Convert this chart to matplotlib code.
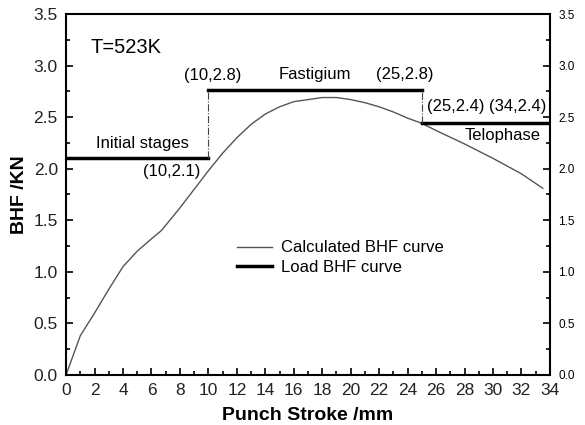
import matplotlib
matplotlib.use("Agg")
import matplotlib.pyplot as plt
from matplotlib.ticker import MultipleLocator, FormatStrFormatter

plt.rcParams['font.family'] = ['Liberation Sans', 'DejaVu Sans']

# calculated BHF curve
stroke = [0, 1, 2, 3, 4, 5, 6, 6.7, 8, 9, 10, 11, 12, 13, 14, 15, 16, 17, 18, 19,
          20, 21, 22, 23, 24, 25, 26, 28, 30, 32, 33.5]
bhf = [0, 0.38, 0.6, 0.83, 1.05, 1.2, 1.32, 1.4, 1.62, 1.8, 1.98, 2.15, 2.3, 2.43,
       2.53, 2.6, 2.65, 2.67, 2.69, 2.69, 2.67, 2.64, 2.6, 2.55, 2.49, 2.44, 2.37,
       2.24, 2.1, 1.95, 1.81]

# load BHF curve (steps)
load_x = [[0, 10], [10, 25], [25, 34]]
load_y = [2.1, 2.76, 2.44]

fig = plt.figure(figsize=(5.85, 4.25), dpi=100)
ax = fig.add_axes([0.113, 0.118, 0.827, 0.849])

ax.plot(stroke, bhf, color='#555555', lw=1.0, label='Calculated BHF curve')
for i in range(3):
    ax.plot(load_x[i], [load_y[i], load_y[i]], color='black', lw=2.5,
            label='Load BHF curve' if i == 0 else None)
ax.plot([10, 10], [load_y[0], load_y[1]], color='#444444', lw=0.8, ls='-.')
ax.plot([25, 25], [load_y[2], load_y[1]], color='#444444', lw=0.8, ls='-.')

ax.set_xlim(0, 34)
ax.set_ylim(0, 3.5)
ax.xaxis.set_major_locator(MultipleLocator(2))
ax.xaxis.set_minor_locator(MultipleLocator(1))
ax.yaxis.set_major_locator(MultipleLocator(0.5))
ax.yaxis.set_minor_locator(MultipleLocator(0.25))
ax.yaxis.set_major_formatter(FormatStrFormatter('%.1f'))
ax.tick_params(which='both', direction='in', top=False, right=True, labelsize=12.5,
               labelcolor='#222222')
ax.tick_params(which='major', length=5, width=1.2, pad=6)
ax.tick_params(which='minor', length=3, width=1.2)
for s in ax.spines.values():
    s.set_linewidth(1.5)

# smaller labels on the right side
ax2 = ax.secondary_yaxis('right')
ax2.set_yticks([0, 0.5, 1.0, 1.5, 2.0, 2.5, 3.0, 3.5])
ax2.yaxis.set_major_formatter(FormatStrFormatter('%.1f'))
ax2.tick_params(direction='in', length=0, labelsize=8.5, pad=6)
ax2.spines['right'].set_visible(False)

ax.set_xlabel('Punch Stroke /mm', fontsize=14, fontweight='bold', labelpad=6)
ax.set_ylabel('BHF /KN', fontsize=14, fontweight='bold', labelpad=4)

ax.text(1.7, 3.18, 'T=523K', fontsize=14.5, va='center')
ax.text(5.33, 2.24, 'Initial stages', fontsize=12, ha='center', va='center')
ax.text(7.4, 1.97, '(10,2.1)', fontsize=12, ha='center', va='center')
ax.text(10.3, 2.9, '(10,2.8)', fontsize=12, ha='center', va='center')
ax.text(17.5, 2.91, 'Fastigium', fontsize=12, ha='center', va='center')
ax.text(23.8, 2.91, '(25,2.8)', fontsize=12, ha='center', va='center')
ax.text(27.4, 2.6, '(25,2.4)', fontsize=12, ha='center', va='center')
ax.text(31.75, 2.6, '(34,2.4)', fontsize=12, ha='center', va='center')
ax.text(30.65, 2.32, 'Telophase', fontsize=12, ha='center', va='center')

ax.legend(loc='center left', bbox_to_anchor=(0.322, 0.325), frameon=False, fontsize=12,
          handlelength=2.1, labelspacing=0.25, handletextpad=0.55)

fig.savefig('out.png', dpi=100)
